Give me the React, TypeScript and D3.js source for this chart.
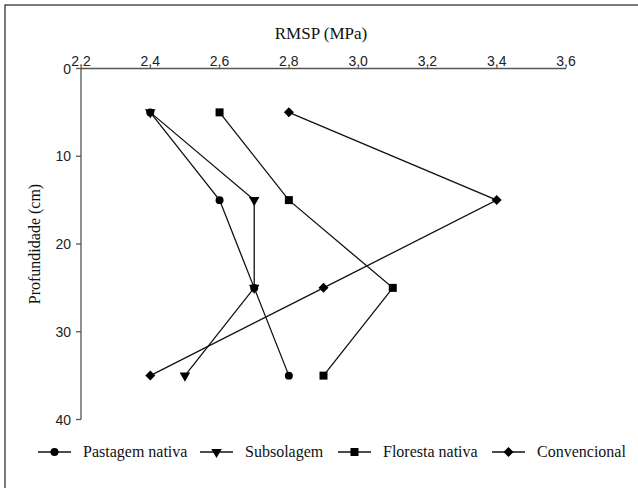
import * as d3 from "d3";

const WIDTH = 638;
const HEIGHT = 488;

// depth (cm) and RMSP (MPa) per treatment
const depths = [5, 15, 25, 35];
const pastagemNativa = [2.4, 2.6, 2.7, 2.8];
const subsolagem = [2.4, 2.7, 2.7, 2.5];
const florestaNativa = [2.6, 2.8, 3.1, 2.9];
const convencional = [2.8, 3.4, 2.9, 2.4];

const xTicks = [2.2, 2.4, 2.6, 2.8, 3.0, 3.2, 3.4, 3.6];
const yTicks = [0, 10, 20, 30, 40];

const SERIF = "'Liberation Serif', 'Times New Roman', 'DejaVu Serif', serif";
const SANS = "'Liberation Sans', Arial, 'DejaVu Sans', sans-serif";

const seriesList = [
  { name: "Pastagem nativa", values: pastagemNativa, symbol: d3.symbolCircle, size: 50, rotate: 0, legendX: 38 },
  { name: "Subsolagem", values: subsolagem, symbol: d3.symbolTriangle, size: 48, rotate: 180, legendX: 200 },
  { name: "Floresta nativa", values: florestaNativa, symbol: d3.symbolSquare, size: 64, rotate: 0, legendX: 338 },
  { name: "Convencional", values: convencional, symbol: d3.symbolSquare, size: 50, rotate: 45, legendX: 492 },
];

const x = d3.scaleLinear().domain([2.2, 3.6]).range([81, 566]);
const y = d3.scaleLinear().domain([0, 40]).range([68.5, 419.5]);

const fmt = (v: number) => d3.format(".1f")(v).replace(".", ",");

export default function App() {
  const line = d3
    .line<number>()
    .x((v) => x(v))
    .y((_, i) => y(depths[i]));

  return (
    <svg
      width={WIDTH}
      height={HEIGHT}
      style={{ position: "absolute", left: 0, top: 0, background: "#fff" }}
    >
      <rect x={5} y={5} width={WIDTH} height={HEIGHT} fill="none" stroke="#333" strokeWidth={1.3} />

      <text x={321} y={39} textAnchor="middle" style={{ fontFamily: SERIF, fontSize: 17 }} fill="#111">
        RMSP (MPa)
      </text>
      <text
        transform={`translate(40, ${(y(0) + y(40)) / 2}) rotate(-90)`}
        textAnchor="middle"
        style={{ fontFamily: SERIF, fontSize: 16 }}
        fill="#111"
      >
        Profundidade (cm)
      </text>

      {/* axes */}
      <g stroke="#555" strokeWidth={1.3} fill="none">
        <line x1={x(2.2)} x2={x(3.6)} y1={y(0)} y2={y(0)} />
        <line x1={x(2.2)} x2={x(2.2)} y1={y(0)} y2={y(40)} />
        {yTicks.map((t) => (
          <line key={t} x1={x(2.2) - 5} x2={x(2.2)} y1={y(t)} y2={y(t)} />
        ))}
      </g>
      <g style={{ fontFamily: SANS, fontSize: 14 }} fill="#222">
        {xTicks.map((t) => (
          <text key={t} x={x(t)} y={y(0) - 3} textAnchor="middle">
            {fmt(t)}
          </text>
        ))}
        {yTicks.map((t) => (
          <text key={t} x={x(2.2) - 10} y={y(t) + 5} textAnchor="end">
            {t}
          </text>
        ))}
      </g>

      {/* series lines */}
      <g fill="none" stroke="#111" strokeWidth={1.3}>
        {seriesList.map((s) => (
          <path key={s.name} d={line(s.values) ?? ""} />
        ))}
      </g>
      {/* markers */}
      <g fill="#000">
        {seriesList.map((s) =>
          s.values.map((v, i) => (
            <path
              key={s.name + i}
              transform={`translate(${x(v)}, ${y(depths[i])}) rotate(${s.rotate})`}
              d={d3.symbol(s.symbol, s.size)() ?? ""}
            />
          ))
        )}
      </g>

      {/* legend */}
      <g>
        {seriesList.map((s) => (
          <g key={s.name} transform={`translate(${s.legendX}, 452)`}>
            <line x1={0} x2={33} y1={0} y2={0} stroke="#111" strokeWidth={1.3} />
            <path transform={`translate(16.5, 0) rotate(${s.rotate})`} d={d3.symbol(s.symbol, s.size)() ?? ""} fill="#000" />
            <text x={45} y={5} style={{ fontFamily: SERIF, fontSize: 16 }} fill="#111">
              {s.name}
            </text>
          </g>
        ))}
      </g>
    </svg>
  );
}
